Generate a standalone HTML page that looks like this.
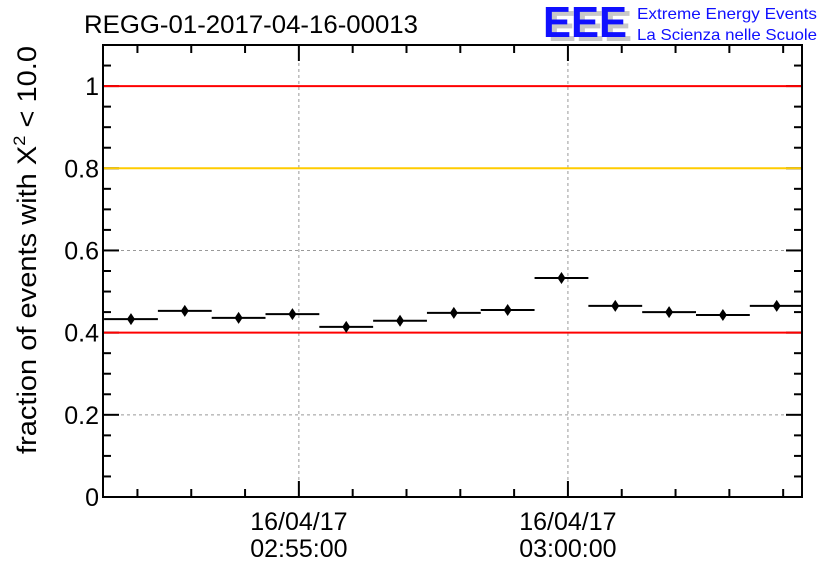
<!DOCTYPE html>
<html><head><meta charset="utf-8"><style>
body{margin:0;background:#fff}
svg text{font-family:"Liberation Sans",sans-serif}
</style></head><body>
<svg id="chart" width="836" height="572" viewBox="0 0 836 572" xmlns="http://www.w3.org/2000/svg">
<rect width="836" height="572" fill="#fff"/>
<text x="84" y="33" font-size="25" textLength="334" lengthAdjust="spacingAndGlyphs">REGG-01-2017-04-16-00013</text>
<g>
<text x="548" y="41" font-size="44" font-weight="bold" fill="#c8c8c8" textLength="84" lengthAdjust="spacingAndGlyphs">EEE</text>
<text x="543" y="37" font-size="44" font-weight="bold" fill="#1010ff" textLength="84" lengthAdjust="spacingAndGlyphs">EEE</text>
<text x="637" y="19" font-size="16" fill="#1010ff" textLength="180" lengthAdjust="spacingAndGlyphs">Extreme Energy Events</text>
<text x="637" y="40" font-size="16" fill="#1010ff" textLength="180" lengthAdjust="spacingAndGlyphs">La Scienza nelle Scuole</text>
</g>
<g id="grid"></g>
<g id="axes"></g>
<g id="refs"></g>
<g id="marks"></g>
<text transform="translate(36,250) rotate(-90)" text-anchor="middle" font-size="27" textLength="408" lengthAdjust="spacingAndGlyphs">fraction of events with X<tspan font-size="17" dy="-11">2</tspan><tspan dy="11"> &lt; 10.0</tspan></text>
</svg>
<script>
const binCenters=[-3.12,-2.12,-1.12,-0.12,0.88,1.88,2.88,3.88,4.88,5.88,6.88,7.88,8.88];
const values=[0.433,0.453,0.436,0.445,0.414,0.429,0.448,0.455,0.533,0.465,0.450,0.443,0.465];
const errors=[0.008,0.008,0.008,0.008,0.008,0.008,0.008,0.008,0.007,0.008,0.008,0.008,0.008];
const yTicks=[0,0.2,0.4,0.6,0.8,1];
const yTickLabels=["0","0.2","0.4","0.6","0.8","1"];
const xTicks=[0,5];
const xTickLabels=[["16/04/17","02:55:00"],["16/04/17","03:00:00"]];
const refValues=[1,0.8,0.4];
const refColors=["#ff0000","#ffcc00","#ff0000"];
const X0=103,X1=802,Y0=497,Y1=45;
const xMin=-3.64,xMax=9.35,yMin=0,yMax=1.1;
const xs=v=>X0+(v-xMin)/(xMax-xMin)*(X1-X0);
const ys=v=>Y0-(v-yMin)/(yMax-yMin)*(Y0-Y1);
const NS="http://www.w3.org/2000/svg";
function mk(p,t,a){const e=document.createElementNS(NS,t);for(const k in a)e.setAttribute(k,a[k]);p.appendChild(e);return e;}
const grid=document.getElementById('grid'),refs=document.getElementById('refs'),marks=document.getElementById('marks'),axes=document.getElementById('axes');
yTicks.forEach(v=>{if(v<=0||v>=1)return;const l=mk(grid,'line',{x1:X0,x2:X1,y1:ys(v),y2:ys(v),stroke:'#999','stroke-dasharray':'3,3','stroke-width':1});

});
xTicks.forEach(v=>{const l=mk(grid,'line',{x1:xs(v),x2:xs(v),y1:Y1,y2:Y0,stroke:'#999','stroke-dasharray':'3,3','stroke-width':1});

});
refValues.forEach((v,i)=>{const l=mk(refs,'line',{x1:X0+1,x2:X1-1,y1:ys(v),y2:ys(v),stroke:refColors[i],'stroke-width':2});

});
binCenters.forEach((c,i)=>{const g=mk(marks,'g',{});


const y=ys(values[i]);
mk(g,'line',{x1:Math.max(X0,xs(c-0.5)),x2:Math.min(X1,xs(c+0.5)),y1:y,y2:y,stroke:'#000','stroke-width':2});
mk(g,'line',{x1:xs(c),x2:xs(c),y1:ys(values[i]+errors[i]),y2:ys(values[i]-errors[i]),stroke:'#000','stroke-width':2});
const x=xs(c);mk(g,'path',{d:`M${x} ${y-6}L${x+4} ${y}L${x} ${y+6}L${x-4} ${y}Z`,fill:'#000'});});
mk(axes,'rect',{x:X0,y:Y1,width:X1-X0,height:Y0-Y1,fill:'none',stroke:'#000','stroke-width':2});
for(let v=0;v<=1.1001;v+=0.05){const r=Math.round(v*100)%20===0;const L=r?16:8;const y=ys(v);
mk(axes,'line',{x1:X0,x2:X0+L,y1:y,y2:y,stroke:'#000','stroke-width':2});
mk(axes,'line',{x1:X1-L,x2:X1,y1:y,y2:y,stroke:'#000','stroke-width':2});}
yTicks.forEach((v,i)=>{const t=mk(axes,'text',{x:X0-4,y:ys(v)+9,'text-anchor':'end','font-size':25});t.textContent=yTickLabels[i];

});
for(let m=-3;m<=9;m++){const L=(m%5===0)?16:8;const x=xs(m);
mk(axes,'line',{x1:x,x2:x,y1:Y0-L,y2:Y0,stroke:'#000','stroke-width':2});
mk(axes,'line',{x1:x,x2:x,y1:Y1,y2:Y1+L,stroke:'#000','stroke-width':2});}
xTicks.forEach((v,i)=>{[0,1].forEach(j=>{const t=mk(axes,'text',{x:xs(v),y:530+j*27,'text-anchor':'middle','font-size':25});t.textContent=xTickLabels[i][j];

});});
</script>
</body></html>
